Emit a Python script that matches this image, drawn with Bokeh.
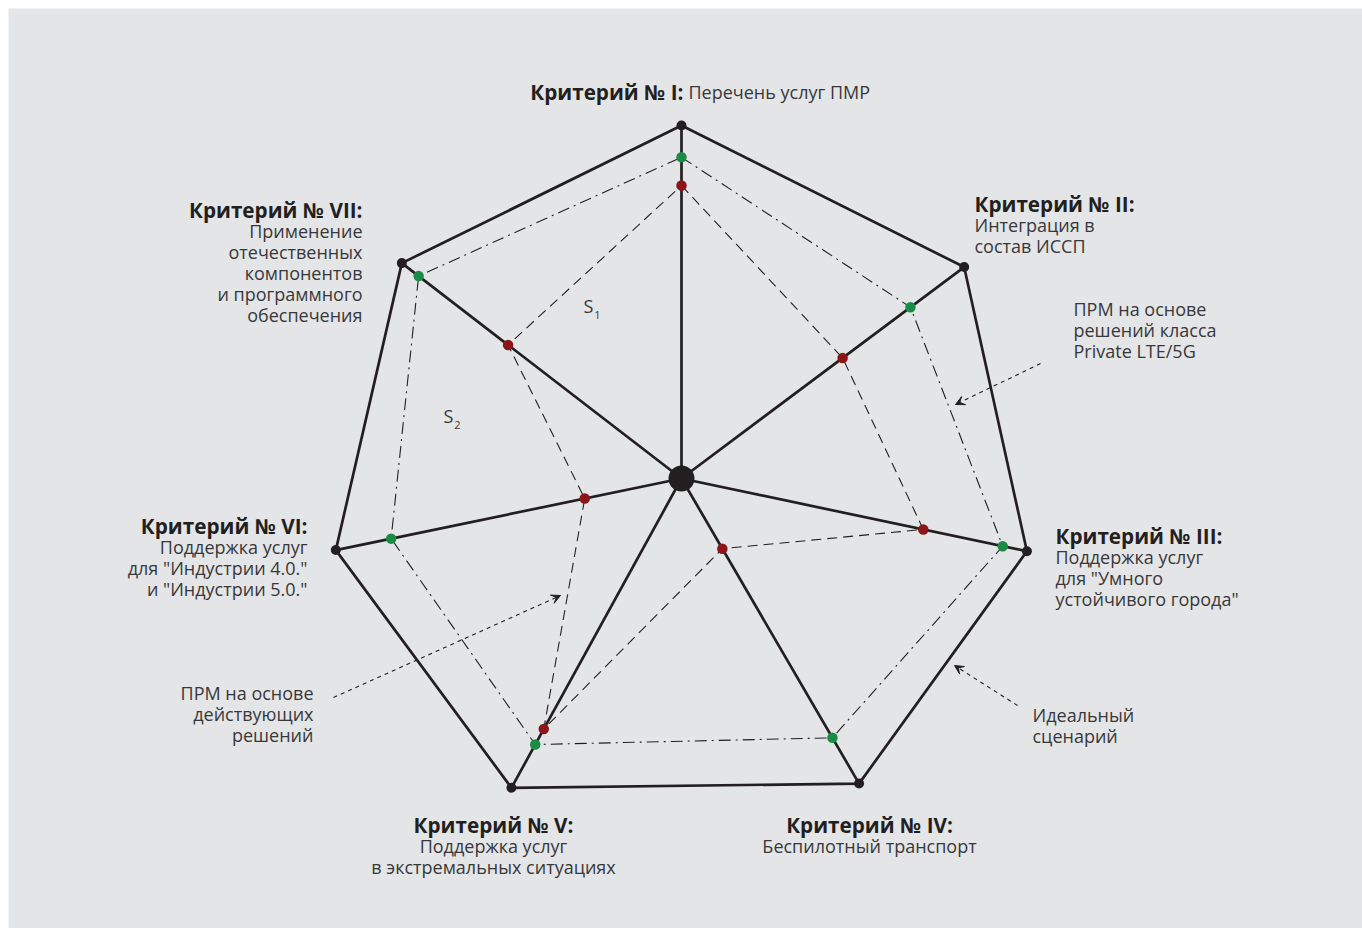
import math
from bokeh.plotting import figure
from bokeh.models import Range1d, Arrow, VeeHead
from bokeh.core.properties import value
from bokeh.embed import file_html
from bokeh.resources import INLINE

# ---------------- data ----------------
criteria = ["I", "II", "III", "IV", "V", "VI", "VII"]
ideal = [1.0, 1.0, 1.0, 1.0, 1.0, 1.0, 1.0]
private_lte = [0.91, 0.81, 0.93, 0.85, 0.86, 0.84, 0.94]
existing = [0.83, 0.57, 0.70, 0.23, 0.81, 0.28, 0.62]

titles = ["Критерий № I:", "Критерий № II:", "Критерий № III:", "Критерий № IV:",
          "Критерий № V:", "Критерий № VI:", "Критерий № VII:"]
descriptions = [
    ["Перечень услуг ПМР"],
    ["Интеграция в", "состав ИССП"],
    ["Поддержка услуг", "для \"Умного", "устойчивого города\""],
    ["Беспилотный транспорт"],
    ["Поддержка услуг", "в экстремальных ситуациях"],
    ["Поддержка услуг", "для \"Индустрии 4.0.\"", "и \"Индустрии 5.0.\""],
    ["Применение", "отечественных", "компонентов", "и программного", "обеспечения"],
]
note_lte = ["ПРМ на основе", "решений класса", "Private LTE/5G"]
note_ideal = ["Идеальный", "сценарий"]
note_existing = ["ПРМ на основе", "действующих", "решений"]

# ---------------- layout ----------------
W, H = 1354, 920
R = 353
axis_angles_deg = [90, 36.8, -11.9, -59.8, -118.8, -168.3, 142.4]
BG = "#e4e5e7"
INK = "#231f20"
TXT = "#38383a"
GREEN = "#1a8c45"
RED = "#8b1518"
FONT = "Open Sans"
LH = 21
BODY = "18px"
HEAD = "20.7px"


def polar(vals):
    xs = [v * R * math.cos(math.radians(a)) for v, a in zip(vals, axis_angles_deg)]
    ys = [v * R * math.sin(math.radians(a)) for v, a in zip(vals, axis_angles_deg)]
    return xs, ys


p = figure(width=W, height=H, output_backend="svg", toolbar_location=None,
           x_range=Range1d(-673, 681), y_range=Range1d(-450, 470),
           min_border=0, background_fill_color=BG, border_fill_color=BG,
           outline_line_color=None, margin=(8, 0, 0, 8))
p.axis.visible = False
p.grid.visible = False

ix, iy = polar(ideal)
gx, gy = polar(private_lte)
rx, ry = polar(existing)

# spokes
p.segment(x0=[0] * 7, y0=[0] * 7, x1=ix, y1=iy, line_color=INK, line_width=2.7)
# ideal polygon
p.line(ix + ix[:1], iy + iy[:1], line_color=INK, line_width=2.7)
# series
p.line(gx + gx[:1], gy + gy[:1], line_color=INK, line_width=1.1, line_dash="12 5 2 5")
p.line(rx + rx[:1], ry + ry[:1], line_color=INK, line_width=1.1, line_dash="10 6")

# markers
p.scatter(ix, iy, size=10, fill_color=INK, line_color=None)
p.scatter(gx, gy, size=10.5, fill_color=GREEN, line_color=None)
p.scatter(rx, ry, size=10.5, fill_color=RED, line_color=None)
p.scatter([0], [0], size=26, fill_color=INK, line_color=None)


def txt(x, y, s, align="left", bold=False, size=BODY, color=TXT):
    p.text(x=[x], y=[y], text=[s], text_align=align, text_baseline="middle",
           text_font=value(FONT), text_font_size=size,
           text_font_style="bold" if bold else "normal",
           text_color=INK if bold else color)


def block(x, y, title, lines, align):
    txt(x, y, title, align, bold=True, size=HEAD)
    for k, s in enumerate(lines):
        txt(x, y - LH * (k + 1), s, align)


# I: title and description on one line
txt(2, 387, titles[0], "right", bold=True, size=HEAD)
txt(7, 387, descriptions[0][0], "left")
block(293, 275, titles[1], descriptions[1], "left")
block(374, -57, titles[2], descriptions[2], "left")
block(188, -346, titles[3], descriptions[3], "center")
block(-188, -346, titles[4], descriptions[4], "center")
block(-374, -47, titles[5], descriptions[5], "right")
block(-319, 269, titles[6], descriptions[6], "right")

# notes
for k, s in enumerate(note_lte):
    txt(392, 170 - LH * k, s, "left")
for k, s in enumerate(note_ideal):
    txt(351, -236 - LH * k, s, "left")
for k, s in enumerate(note_existing):
    txt(-368, -214 - LH * k, s, "right")

# S1 / S2
txt(-93, 173, "S", "center", size="18px")
txt(-84, 164, "1", "center", size="11px")
txt(-233, 63, "S", "center", size="18px")
txt(-224, 54, "2", "center", size="11px")

# arrows
for (x0, y0, x1, y1) in [(359, 115, 274, 74), (336, -227, 273, -187), (-348, -219, -121, -117)]:
    p.add_layout(Arrow(x_start=x0, y_start=y0, x_end=x1, y_end=y1,
                       line_color=INK, line_width=1.1, line_dash="4 4",
                       end=VeeHead(size=9, fill_color=INK, line_color=INK, line_width=1)))

open("out.html", "w").write(file_html(p, INLINE))
